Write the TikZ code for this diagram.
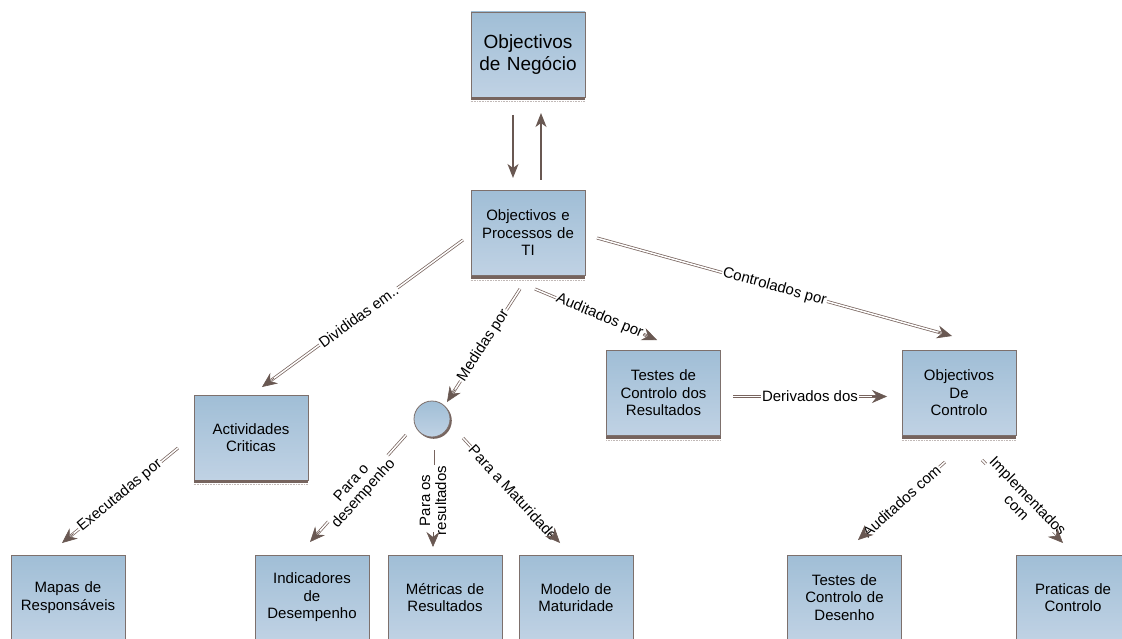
\documentclass[tikz,border=0pt]{standalone}
\usepackage{fontspec}
\setmainfont{Liberation Sans}
\usetikzlibrary{arrows.meta,calc}

\definecolor{lc}{RGB}{120,100,94}
\definecolor{ac}{RGB}{105,88,82}
\definecolor{bd}{RGB}{125,112,108}
\definecolor{topb}{RGB}{160,190,214}
\definecolor{botb}{RGB}{192,210,228}
\definecolor{stripc}{RGB}{118,100,94}

\tikzset{
  box/.style={rectangle, draw=bd, line width=0.8pt, top color=topb, bottom color=botb,
    minimum width=114pt, minimum height=85pt, inner sep=2pt, text width=110pt,
    align=center, font=\fontsize{15}{17.5}\selectfont},
  circ/.style={circle, draw=bd, line width=0.8pt, top color=topb, bottom color=botb,
    minimum size=36pt, inner sep=0pt},
  lab/.style={fill=white, inner sep=1pt, align=center, sloped,
    font=\fontsize{15}{16}\selectfont},
  labv/.style={fill=white, inner sep=1pt, align=center, rotate=90,
    font=\fontsize{15}{16}\selectfont},
  dl/.style={draw=lc, double=white, double distance=1.5pt, line width=0.75pt, shorten >=11pt},
  tip/.style={draw=ac, line width=0.6pt, -{Stealth[length=15pt,width=13pt,inset=5pt]}},
  sl/.style={draw=ac, line width=1.1pt, -{Stealth[length=14pt,width=11pt,inset=4pt]}},
}

\begin{document}
\begin{tikzpicture}[x=1pt,y=-1pt]
\clip (0,0) rectangle (1122,639);
\fill[white] (0,0) rectangle (1122,639);

% boxes
\node[box, font=\fontsize{19}{22}\selectfont] (neg) at (528,54.5) {Objectivos\\de Negócio};
\node[box] (ti)  at (528,233)    {Objectivos e\\Processos de\\TI};
\node[box] (act) at (251,437.5)  {Actividades\\Criticas};
\node[box] (tr)  at (663.5,393)  {Testes de\\Controlo dos\\Resultados};
\node[box] (oc)  at (959,393)    {Objectivos\\De\\Controlo};
\node[box] (map) at (68,597.5)   {Mapas de\\Responsáveis};
\node[box] (ind) at (312,597.5)  {Indicadores\\de\\Desempenho};
\node[box] (met) at (445,597.5)  {Métricas de\\Resultados};
\node[box] (mod) at (576,597.5)  {Modelo de\\Maturidade};
\node[box] (tcd) at (844.5,597.5){Testes de\\Controlo de\\Desenho};
\node[box] (pc)  at (1073,597.5) {Praticas de\\Controlo};

% shadow strips under the boxes
\foreach \b in {neg,ti,act,tr,oc}{
  \fill[stripc] (\b.south west) rectangle ([yshift=-3pt]\b.south east);
  \draw[stripc!45, line width=0.6pt, dash pattern=on 1pt off 0.6pt]
    ([yshift=-4.2pt]\b.south west) -- ([yshift=-4.2pt]\b.south east);
}

% junction circle
\fill[stripc] (433.6,420.6) circle (18.2pt);
\node[circ] (jn) at (432,419) {};

% connector ends
\coordinate (a1) at (513,115);  \coordinate (a2) at (513,178);
\coordinate (b1) at (541,180);  \coordinate (b2) at (541,113);
\coordinate (c1) at (463,240);  \coordinate (c2) at (262,387);
\coordinate (d1) at (520,289);  \coordinate (d2) at (447,402);
\coordinate (e1) at (535,289);  \coordinate (e2) at (657,340);
\coordinate (f1) at (597,238);  \coordinate (f2) at (952,336);
\coordinate (g1) at (733,396.5);  \coordinate (g2) at (887,396.5);
\coordinate (h1) at (178,448);  \coordinate (h2) at (62,543);
\coordinate (i1) at (406,435);  \coordinate (i2) at (310,542);
\coordinate (j1) at (433,450);  \coordinate (j2) at (433,547);
\coordinate (k1) at (463,438);  \coordinate (k2) at (560,543);
\coordinate (l1) at (945,462);  \coordinate (l2) at (858,540);
\coordinate (m1) at (982,460);  \coordinate (m2) at (1063,543);

% business objectives <-> IT
\draw[sl] (a1) -- (a2);
\draw[sl] (b1) -- (b2);

% labelled double connectors
\draw[dl] (c1) -- node[lab, pos=0.52]{Divididas em..} (c2);
\draw[tip] ($(c2)!15pt!(c1)$) -- (c2);

\draw[dl] (d1) -- node[lab]{Medidas por} (d2);
\draw[tip] ($(d2)!15pt!(d1)$) -- (d2);

\draw[dl] (e1) -- node[lab, pos=0.53]{Auditados por} (e2);
\draw[tip] ($(e2)!15pt!(e1)$) -- (e2);

\draw[dl] (f1) -- node[lab]{Controlados por} (f2);
\draw[tip] ($(f2)!15pt!(f1)$) -- (f2);

\draw[dl] (g1) -- node[lab, pos=0.5]{Derivados dos} (g2);
\draw[tip] ($(g2)!15pt!(g1)$) -- (g2);

\draw[dl] (h1) -- node[lab]{Executadas por} (h2);
\draw[tip] ($(h2)!15pt!(h1)$) -- (h2);

\draw[dl] (i1) -- node[lab]{Para o\\desempenho} (i2);
\draw[tip] ($(i2)!15pt!(i1)$) -- (i2);

\draw[dl] (j1) -- node[labv, pos=0.52]{Para os\\resultados} (j2);
\draw[tip] ($(j2)!15pt!(j1)$) -- (j2);

\draw[dl] (k1) -- node[lab, pos=0.52]{Para a Maturidade} (k2);
\draw[tip] ($(k2)!15pt!(k1)$) -- (k2);

\draw[dl] (l1) -- node[lab]{Auditados com} (l2);
\draw[tip] ($(l2)!15pt!(l1)$) -- (l2);

\draw[dl] (m1) -- node[lab]{Implementados\\com} (m2);
\draw[tip] ($(m2)!15pt!(m1)$) -- (m2);
\end{tikzpicture}
\end{document}
